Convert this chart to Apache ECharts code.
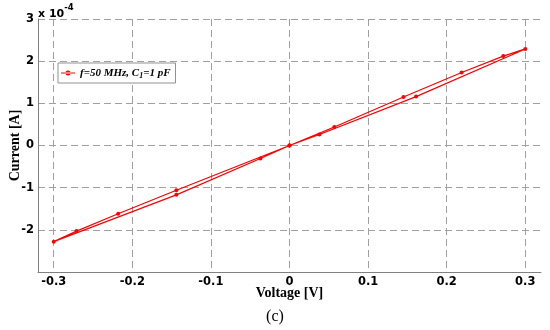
<!DOCTYPE html>
<html>
<head>
<meta charset="utf-8">
<script src="https://cdn.jsdelivr.net/npm/echarts@6/dist/echarts.min.js"></script>
<style>html,body{margin:0;padding:0;background:#fff;}#c{width:550px;height:330px;}</style>
</head>
<body>
<div id="c"></div>
<script>
// Data (current in units of 1e-4 A)
const voltage = [0, 0.038, 0.161, 0.3, 0.272, 0.219, 0.145, 0.057, 0, -0.037, -0.144, -0.3, -0.271, -0.218, -0.144, 0];
const current = [0, 0.26, 1.16, 2.29, 2.12, 1.73, 1.15, 0.44, 0, -0.31, -1.17, -2.28, -2.03, -1.62, -1.06, 0];
const xTicks = [-0.3, -0.2, -0.1, 0, 0.1, 0.2, 0.3];
const seriesName = 'f=50 MHz, C1=1 pF';

const pts = voltage.map((v, i) => [v, current[i]]);
const chart = echarts.init(document.getElementById('c'), null, {renderer: 'canvas'});
const gridLine = {show: true, lineStyle: {color: '#a0a0a0', width: 1, type: [7, 4]}};
const tickFont = {fontFamily: 'DejaVu Sans', fontWeight: 'bold', fontSize: 11.5, color: '#000'};
const nameFont = {fontFamily: 'Liberation Serif', fontWeight: 'bold', fontSize: 14, color: '#000'};
chart.setOption({
  animation: false,
  backgroundColor: '#fff',
  grid: {left: 38, right: 9, top: 19, bottom: 58, containLabel: false, outerBoundsMode: 'none'},
  xAxis: {
    type: 'value', min: -0.32, max: 0.32,
    axisLine: {show: true, onZero: false, lineStyle: {color: '#808080', width: 1}},
    axisTick: {show: false, customValues: xTicks},
    axisLabel: Object.assign({customValues: xTicks, margin: 4, formatter: v => String(Math.round(v*10)/10)}, tickFont),
    splitLine: gridLine,
    name: 'Voltage [V]', nameLocation: 'middle', nameGap: 14, nameMoveOverlap: false, nameTextStyle: nameFont
  },
  yAxis: {
    type: 'value', min: -3, max: 3, interval: 1,
    axisLine: {show: true, onZero: false, lineStyle: {color: '#808080', width: 1}},
    axisTick: {show: false},
    axisLabel: Object.assign({showMinLabel: false, margin: 4}, tickFont),
    splitLine: gridLine,
    name: 'Current [A]', nameLocation: 'middle', nameGap: 16, nameMoveOverlap: false, nameTextStyle: nameFont
  },
  legend: {
    show: true, left: 58, top: 63, orient: 'vertical',
    backgroundColor: '#fff', borderColor: '#909090', borderWidth: 1,
    padding: [3, 5, 3, 3], itemWidth: 14, itemHeight: 5, itemGap: 2,
    formatter: () => '{i|f=50 MHz, C}{s|1}{i|=1 pF}',
    textStyle: {
      rich: {
        i: {fontFamily: 'Liberation Serif', fontStyle: 'italic', fontWeight: 'bold', fontSize: 11, color: '#000', lineHeight: 14},
        s: {fontFamily: 'Liberation Serif', fontStyle: 'italic', fontWeight: 'bold', fontSize: 8, color: '#000', lineHeight: 14, verticalAlign: 'bottom', padding: [6, 0, 0, 0]}
      }
    },
    data: [{name: seriesName, icon: 'path://M0,2H14V3H0Z M4.5,2.5A2.5,2.5,0,1,0,9.5,2.5A2.5,2.5,0,1,0,4.5,2.5Z',
            itemStyle: {color: '#ff0000', borderWidth: 0}}]
  },
  graphic: [
    {type: 'text', left: 38, top: 3, style: {text: '{a|x 10}{b|-4}', rich: {
      a: {fontFamily: 'DejaVu Sans', fontWeight: 'bold', fontSize: 11, fill: '#000', padding: [6, 0, 0, 0]},
      b: {fontFamily: 'DejaVu Sans', fontWeight: 'bold', fontSize: 8.5, fill: '#000', verticalAlign: 'top'}
    }}},
    {type: 'text', x: 275, y: 317, style: {text: '(c)', fontFamily: 'Liberation Serif', fontSize: 16, fill: '#000', align: 'center', verticalAlign: 'middle'}}
  ],
  series: [{
    name: seriesName, type: 'line', data: pts,
    symbol: 'circle', symbolSize: 4, showSymbol: true,
    itemStyle: {color: '#ff0000'},
    lineStyle: {color: '#ff0000', width: 1.2},
    emphasis: {disabled: true}
  }]
});
</script>
</body>
</html>
